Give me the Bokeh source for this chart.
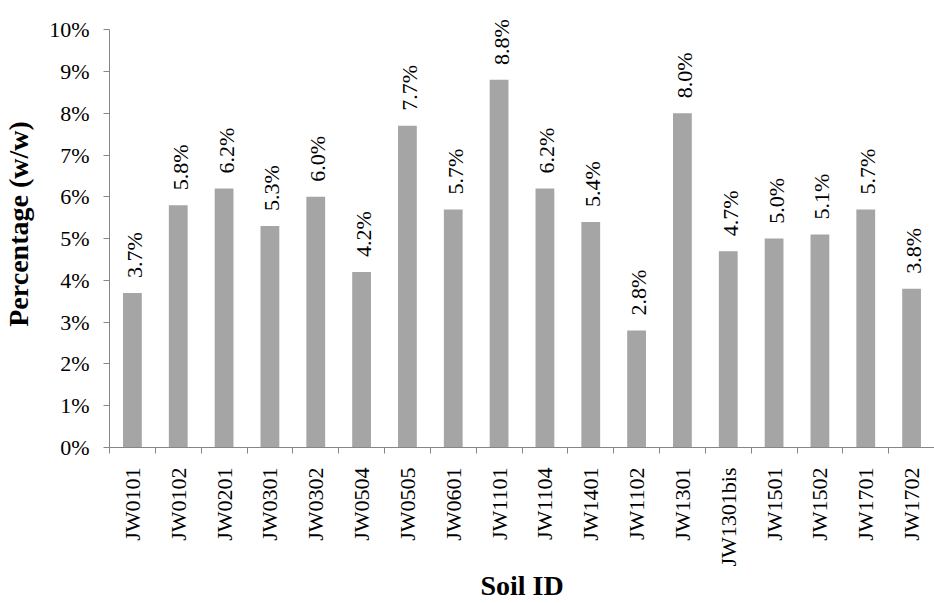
import math
from bokeh.plotting import figure
from bokeh.models import (ColumnDataSource, Range1d, FixedTicker, PrintfTickFormatter,
                          LabelSet)
from bokeh.embed import file_html
from bokeh.resources import INLINE

soil_ids = ["JW0101", "JW0102", "JW0201", "JW0301", "JW0302", "JW0504", "JW0505",
            "JW0601", "JW1101", "JW1104", "JW1401", "JW1102", "JW1301", "JW1301bis",
            "JW1501", "JW1502", "JW1701", "JW1702"]
percentages = [3.7, 5.8, 6.2, 5.3, 6.0, 4.2, 7.7, 5.7, 8.8, 6.2, 5.4, 2.8, 8.0, 4.7,
               5.0, 5.1, 5.7, 3.8]
y_ticks = [0, 1, 2, 3, 4, 5, 6, 7, 8, 9, 10]

idx = list(range(len(soil_ids)))
src = ColumnDataSource(dict(x=idx, y=percentages, name=soil_ids,
                            lbl=[f"{v:.1f}%" for v in percentages]))

FONT = "'Liberation Serif', 'Times New Roman', Times, serif"
GRAY_AXIS = "#868686"

p = figure(width=934, height=603, output_backend="svg", toolbar_location=None,
           x_range=Range1d(-0.5, len(soil_ids) - 0.5), y_range=Range1d(0, 10.7),
           min_border_left=109, min_border_right=0, min_border_top=0,
           min_border_bottom=150)
p.outline_line_color = None
p.xgrid.grid_line_color = None
p.ygrid.grid_line_color = None
p.background_fill_color = "white"
p.border_fill_color = "white"

p.vbar(x="x", top="y", width=0.41, source=src, fill_color="#a5a5a5",
       line_color=None)

labels = LabelSet(x="x", y="y", text="lbl", source=src, angle=math.pi / 2,
                  text_align="left", text_baseline="middle", y_offset=15,
                  x_offset=2, text_font=FONT, text_font_size="22px",
                  text_color="black")
p.add_layout(labels)

# y axis
ya = p.yaxis[0]
ya.bounds = (0, 10)
ya.ticker = FixedTicker(ticks=y_ticks)
ya.formatter = PrintfTickFormatter(format="%d%%")
ya.axis_line_color = GRAY_AXIS
ya.major_tick_line_color = GRAY_AXIS
ya.major_tick_out = 6
ya.major_tick_in = 0
ya.minor_tick_line_color = None
ya.major_label_text_font = FONT
ya.major_label_text_font_size = "22px"
ya.major_label_text_color = "black"
ya.major_label_standoff = 14
ya.axis_label = "Percentage (w/w)"
ya.axis_label_text_font = FONT
ya.axis_label_text_font_size = "28px"
ya.axis_label_text_font_style = "bold"
ya.axis_label_text_color = "black"
ya.axis_label_standoff = 12

# x axis
xa = p.xaxis[0]
xa.ticker = FixedTicker(ticks=idx, minor_ticks=[i - 0.5 for i in idx] + [len(idx) - 0.5])
xa.major_label_overrides = {i: n for i, n in zip(idx, soil_ids)}
xa.major_label_orientation = math.pi / 2
xa.axis_line_color = GRAY_AXIS
xa.major_tick_line_color = None
xa.minor_tick_line_color = GRAY_AXIS
xa.minor_tick_out = 6
xa.minor_tick_in = 0
xa.major_label_text_font = FONT
xa.major_label_text_font_size = "22px"
xa.major_label_text_color = "black"
xa.major_label_standoff = 14
xa.axis_label = "Soil ID"
xa.axis_label_text_font = FONT
xa.axis_label_text_font_size = "28px"
xa.axis_label_text_font_style = "bold"
xa.axis_label_text_color = "black"
xa.axis_label_standoff = 0

open("out.html", "w").write(file_html(p, INLINE))
